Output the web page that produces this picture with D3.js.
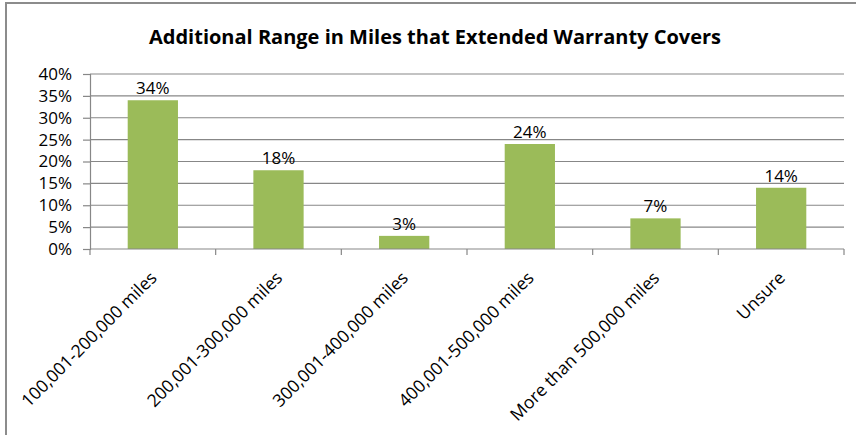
<!DOCTYPE html>
<html>
<head>
<meta charset="utf-8">
<script src="https://cdn.jsdelivr.net/npm/d3@7"></script>
<style>
  html, body { margin: 0; padding: 0; background: #fff; }
  svg { display: block; }
  text { font-family: "Open Sans", "Liberation Sans", sans-serif; fill: #000; }
</style>
</head>
<body>
<svg id="chart" width="856" height="435"></svg>
<script>
// Survey responses: additional mileage an extended warranty covers
const categories = [
  "100,001-200,000 miles",
  "200,001-300,000 miles",
  "300,001-400,000 miles",
  "400,001-500,000 miles",
  "More than 500,000 miles",
  "Unsure"
];
const shares = [0.34, 0.18, 0.03, 0.24, 0.07, 0.14];
const yTicks = [0, 0.05, 0.10, 0.15, 0.20, 0.25, 0.30, 0.35, 0.40];
const chartTitle = "Additional Range in Miles that Extended Warranty Covers";

const svg = d3.select("#chart");
const plot = { left: 90, right: 844, top: 74, bottom: 249 };

// outer chart frame (runs off the right and bottom edges)
svg.append("rect")
  .attr("x", 6).attr("y", 3)
  .attr("width", 880).attr("height", 460)
  .attr("fill", "none")
  .attr("stroke", "#8c8c8c")
  .attr("stroke-width", 2);

svg.append("text")
  .attr("x", 435).attr("y", 44)
  .attr("text-anchor", "middle")
  .style("font-size", "20px")
  .style("font-weight", "bold")
  .text(chartTitle);

const x = d3.scaleBand()
  .domain(categories)
  .range([plot.left, plot.right])
  .paddingInner(0.6)
  .paddingOuter(0.3);

const y = d3.scaleLinear()
  .domain([0, 0.40])
  .range([plot.bottom, plot.top]);

const pct = d3.format(".0%");

// horizontal gridlines
svg.append("g")
  .selectAll("line")
  .data(yTicks.slice(1))
  .join("line")
  .attr("x1", plot.left).attr("x2", plot.right)
  .attr("y1", d => y(d)).attr("y2", d => y(d))
  .attr("stroke", "#878787")
  .attr("stroke-width", 1.2);

// y axis
const yAxis = svg.append("g")
  .attr("transform", `translate(${plot.left},0)`)
  .call(d3.axisLeft(y).tickValues(yTicks).tickFormat(pct).tickSize(7).tickPadding(11));
yAxis.select(".domain").attr("stroke", "#878787").attr("stroke-width", 1.2);
yAxis.selectAll(".tick line").attr("stroke", "#878787").attr("stroke-width", 1.2);
yAxis.selectAll(".tick text")
  .style("font-family", "'Open Sans', sans-serif")
  .style("font-size", "17px")
  .attr("fill", "#000");

// bars
svg.append("g")
  .selectAll("rect")
  .data(shares)
  .join("rect")
  .attr("x", (d, i) => x(categories[i]))
  .attr("y", d => y(d))
  .attr("width", x.bandwidth())
  .attr("height", d => y(0) - y(d))
  .attr("fill", "#9bbb59");

// value labels
svg.append("g")
  .selectAll("text")
  .data(shares)
  .join("text")
  .attr("x", (d, i) => x(categories[i]) + x.bandwidth() / 2)
  .attr("y", d => y(d) - 6)
  .attr("text-anchor", "middle")
  .style("font-size", "17px")
  .text(d => pct(d));

// x axis: baseline with tick marks at category boundaries
const step = x.step();
const boundaries = d3.range(categories.length + 1).map(i => plot.left + i * step);
const xg = svg.append("g");
xg.append("line")
  .attr("x1", plot.left).attr("x2", plot.right)
  .attr("y1", plot.bottom).attr("y2", plot.bottom)
  .attr("stroke", "#878787").attr("stroke-width", 1.2);
xg.selectAll("line.tk")
  .data(boundaries)
  .join("line")
  .attr("class", "tk")
  .attr("x1", d => d).attr("x2", d => d)
  .attr("y1", plot.bottom).attr("y2", plot.bottom + 6)
  .attr("stroke", "#878787").attr("stroke-width", 1.2);

// rotated category labels
xg.selectAll("text")
  .data(categories)
  .join("text")
  .attr("transform", d => `translate(${x(d) + x.bandwidth() / 2 + 5},${plot.bottom + 30}) rotate(-45)`)
  .attr("text-anchor", "end")
  .style("font-size", "17.5px")
  .text(d => d);
</script>
</body>
</html>
